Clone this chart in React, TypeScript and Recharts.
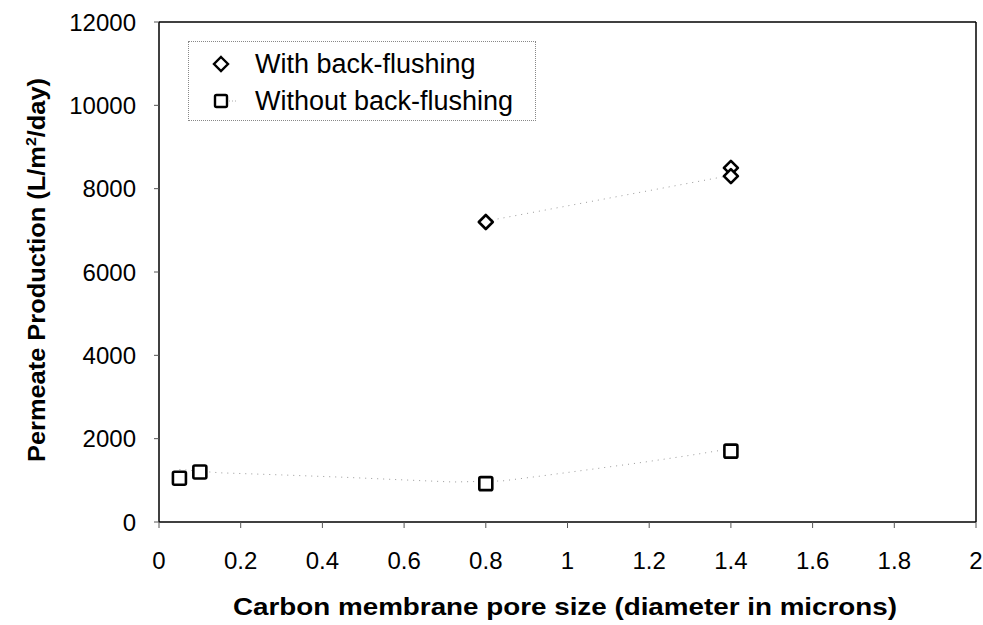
import {
  Label,
  ReferenceLine,
  Scatter,
  ScatterChart,
  XAxis,
  YAxis,
} from "recharts";

// Axis ticks
const xTicks = [0, 0.2, 0.4, 0.6, 0.8, 1, 1.2, 1.4, 1.6, 1.8, 2];
const yTicks = [0, 2000, 4000, 6000, 8000, 10000, 12000];

// Measured points (pore size in microns, permeate L/m2/day)
const withX = [0.8, 1.4, 1.4];
const withY = [7200, 8500, 8300];
const withoutX = [0.05, 0.1, 0.8, 1.4];
const withoutY = [1050, 1200, 920, 1700];

// Dotted trend lines
const withTrendX = [0.8, 1.4];
const withTrendY = [7220, 8320];
const withoutTrendX = [0.05, 0.15, 0.3, 0.45, 0.6, 0.72, 0.84, 0.94, 1.07, 1.19, 1.3, 1.4];
const withoutTrendY = [1260, 1180, 1130, 1075, 1010, 960, 985, 1110, 1280, 1440, 1600, 1760];

const FONT = '"Liberation Sans", Arial, sans-serif';

const zip = (xs: number[], ys: number[]) => xs.map((x, i) => ({ x, y: ys[i] }));

const withData = zip(withX, withY);
const withoutData = zip(withoutX, withoutY);
const withTrend = zip(withTrendX, withTrendY);
const withoutTrend = zip(withoutTrendX, withoutTrendY);

const trendLine = { stroke: "#9a9a9a", strokeWidth: 1, strokeDasharray: "1 5" };

function Diamond({ cx, cy }: any) {
  const r = 7;
  return (
    <polygon
      points={`${cx},${cy - r} ${cx + r},${cy} ${cx},${cy + r} ${cx - r},${cy}`}
      fill="#fff"
      stroke="#000"
      strokeWidth={2.6}
      strokeLinejoin="round"
    />
  );
}

function Square({ cx, cy }: any) {
  const h = 6.5;
  return (
    <rect
      x={cx - h}
      y={cy - h}
      width={h * 2}
      height={h * 2}
      rx={1.5}
      fill="#fff"
      stroke="#000"
      strokeWidth={2.6}
    />
  );
}

const Nothing = () => <g />;

export default function App() {
  const tickStyle = { fill: "#000", fontSize: 24, fontFamily: FONT };

  return (
    <div style={{ position: "absolute", left: 0, top: 0, width: 983, height: 625, background: "#fff" }}>
      <ScatterChart
        width={983}
        height={625}
        margin={{ top: 22, right: 7, bottom: 0, left: 0 }}
      >
        <XAxis
          type="number"
          dataKey="x"
          domain={[0, 2]}
          ticks={xTicks}
          tickFormatter={(v) => String(v)}
          height={103}
          tick={tickStyle}
          tickSize={6}
          tickMargin={24}
          axisLine={{ stroke: "#000", strokeWidth: 1.5 }}
          tickLine={{ stroke: "#555" }}
        >
          <Label
            content={() => (
              <text
                x={565}
                y={615}
                textAnchor="middle"
                fontFamily={FONT}
                fontWeight="bold"
                fontSize={24}
                fill="#000"
                textLength={664}
                lengthAdjust="spacingAndGlyphs"
              >
                Carbon membrane pore size (diameter in microns)
              </text>
            )}
          />
        </XAxis>
        <YAxis
          type="number"
          dataKey="y"
          domain={[0, 12000]}
          ticks={yTicks}
          width={159}
          tick={tickStyle}
          tickSize={5}
          tickMargin={18}
          axisLine={{ stroke: "#000", strokeWidth: 1.5 }}
          tickLine={{ stroke: "#555" }}
        >
          <Label
            content={() => (
              <text
                x={0}
                y={0}
                transform="translate(45, 270) rotate(-90)"
                textAnchor="middle"
                fontFamily={FONT}
                fontWeight="bold"
                fontSize={24}
                fill="#000"
                textLength={384}
                lengthAdjust="spacingAndGlyphs"
              >
                <tspan>Permeate Production (L/m</tspan>
                <tspan dy={-9} fontSize={15}>2</tspan>
                <tspan dy={9}>/day)</tspan>
              </text>
            )}
          />
        </YAxis>

        {/* plot frame top and right */}
        <ReferenceLine y={12000} stroke="#000" strokeWidth={1.5} />
        <ReferenceLine x={2} stroke="#000" strokeWidth={1.5} />

        <Scatter
          data={withTrend}
          line={trendLine}
          lineType="joint"
          shape={Nothing}
          isAnimationActive={false}
        />
        <Scatter
          data={withoutTrend}
          line={trendLine}
          lineType="joint"
          shape={Nothing}
          isAnimationActive={false}
        />
        <Scatter data={withData} shape={Diamond} isAnimationActive={false} />
        <Scatter data={withoutData} shape={Square} isAnimationActive={false} />
      </ScatterChart>

      {/* legend box */}
      <div
        style={{
          position: "absolute",
          left: 188,
          top: 41,
          width: 346,
          height: 78,
          border: "1px dotted #888",
          fontFamily: FONT,
          fontSize: 27,
          color: "#000",
        }}
      >
        <LegendRow top={4} label="With back-flushing">
          <polygon points="13,6 20,13 13,20 6,13" fill="#fff" stroke="#000" strokeWidth={2.4} />
        </LegendRow>
        <LegendRow top={41} label="Without back-flushing">
          <rect x={7} y={7} width={12} height={12} rx={1.5} fill="#fff" stroke="#000" strokeWidth={2.4} />
          <line x1={21} y1={13} x2={30} y2={13} stroke="#aaa" strokeWidth={1} strokeDasharray="1 2" />
        </LegendRow>
      </div>
    </div>
  );
}

function LegendRow({ top, label, children }: { top: number; label: string; children: any }) {
  return (
    <div style={{ position: "absolute", left: 19, top, height: 36, display: "flex", alignItems: "center" }}>
      <svg width={32} height={26} style={{ display: "block" }}>
        {children}
      </svg>
      <span style={{ marginLeft: 15, lineHeight: "36px", whiteSpace: "nowrap" }}>{label}</span>
    </div>
  );
}
